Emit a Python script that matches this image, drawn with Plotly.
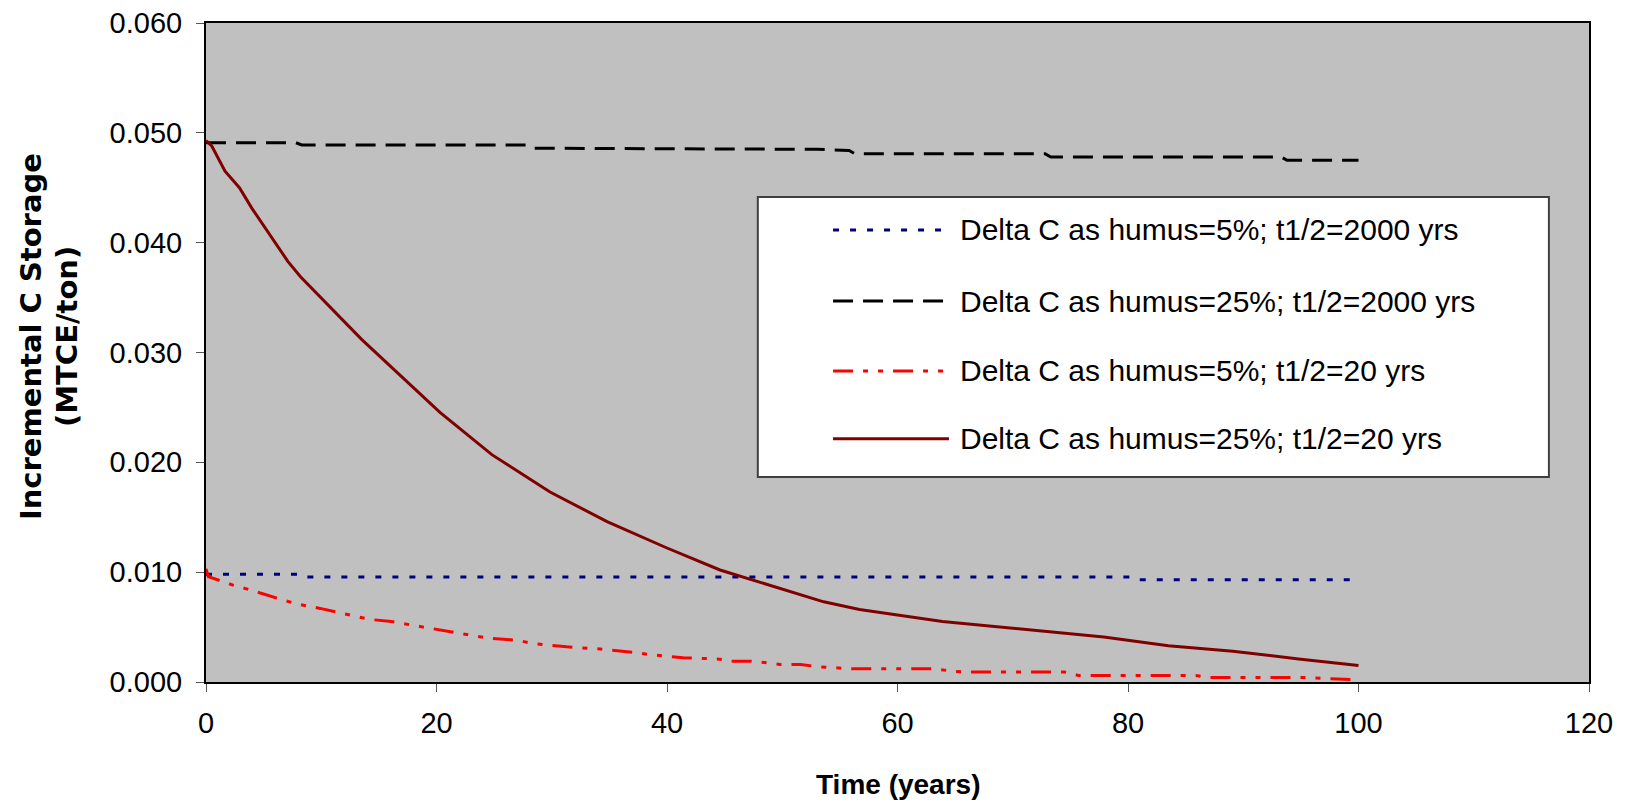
import plotly.graph_objects as go

# ---------------- data ----------------
series_names = [
    "Delta C as humus=5%; t1/2=2000 yrs",
    "Delta C as humus=25%; t1/2=2000 yrs",
    "Delta C as humus=5%; t1/2=20 yrs",
    "Delta C as humus=25%; t1/2=20 yrs",
]

time_5pct_2000 = [0, 8.0, 8.5, 80.5, 81.0, 100]
storage_5pct_2000 = [0.0098, 0.0098, 0.00955, 0.00955, 0.0093, 0.0093]

time_25pct_2000 = [0, 7.8, 8.3, 27.8, 28.3, 53.0, 55.8, 56.3, 72.8, 73.3, 93.3, 93.8, 100]
storage_25pct_2000 = [0.0491, 0.0491, 0.0489, 0.0489, 0.0486, 0.0485, 0.0484,
                      0.0481, 0.0481, 0.0478, 0.0478, 0.0475, 0.0475]

time_5pct_20 = [0, 0.2, 2.4, 3.8, 6.6, 7.9, 9.9, 12.8, 14.2, 16.1, 18.9, 21.5, 24.4, 27.0,
                28.4, 31.3, 34.2, 37.1, 38.5, 41.4, 44.4, 45.6, 47.2, 48.2, 49.8, 51.6,
                53.0, 56.0, 60.0, 63.3, 64.6, 65.9, 74.5, 75.7, 85.9, 87.0, 95.4, 98.0, 100]
storage_5pct_20 = [0.0103, 0.0096, 0.0088, 0.0084, 0.0075, 0.0071, 0.0067, 0.0060, 0.0057,
                   0.0055, 0.0050, 0.0045, 0.0040, 0.0038, 0.0035, 0.0032, 0.0030, 0.0027,
                   0.0025, 0.0022, 0.0021, 0.0019, 0.0019, 0.0018, 0.0016, 0.0016, 0.0014,
                   0.0012, 0.0012, 0.0012, 0.0010, 0.0009, 0.0009, 0.0006, 0.0006, 0.0004,
                   0.0004, 0.0003, 0.0002]

time_25pct_20 = [0, 0.5, 1.65, 2.9, 4.0, 7.1, 8.2, 13.5, 20.3, 24.8, 29.85, 34.8, 40.0,
                 44.6, 53.6, 56.7, 63.9, 77.9, 83.5, 89.1, 94.8, 100]
storage_25pct_20 = [0.0493, 0.0488, 0.0465, 0.0450, 0.0431, 0.0383, 0.0369, 0.0312, 0.02455,
                    0.0207, 0.0173, 0.0146, 0.0122, 0.0102, 0.0073, 0.0066, 0.0055, 0.0041,
                    0.0033, 0.0028, 0.0021, 0.0015]

x_ticks = [0, 20, 40, 60, 80, 100, 120]
y_ticks = [0.0, 0.01, 0.02, 0.03, 0.04, 0.05, 0.06]

x_title = "Time (years)"
y_title_lines = ["Incremental C Storage", "(MTCE/ton)"]

# ---------------- styles ----------------
FONT = "Liberation Sans, Arial, sans-serif"
WIDE_FONT = "DejaVu Sans, Liberation Sans, sans-serif"
styles = [
    dict(color="#000080", width=3, dash="6px,11px"),
    dict(color="#000000", width=3, dash="20px,10px"),
    dict(color="#FF0000", width=3, dash="20px,10px,5px,10px,5px,10px"),
    dict(color="#800000", width=3, dash="solid"),
]
series_x = [time_5pct_2000, time_25pct_2000, time_5pct_20, time_25pct_20]
series_y = [storage_5pct_2000, storage_25pct_2000, storage_5pct_20, storage_25pct_20]

fig = go.Figure()
for name, xs, ys, st in zip(series_names, series_x, series_y, styles):
    fig.add_trace(go.Scatter(x=xs, y=ys, mode="lines", name=name, line=st,
                             showlegend=False, hoverinfo="skip"))

# ---------------- manual legend (Excel-like box) ----------------
leg_x0, leg_x1, leg_y0, leg_y1 = 0.399, 0.971, 0.311, 0.736
sample_x0, sample_x1, text_x = 0.4534, 0.5372, 0.5435
row_y = [0.686, 0.578, 0.472, 0.369]

shapes = [dict(type="rect", xref="paper", yref="paper", x0=leg_x0, x1=leg_x1,
               y0=leg_y0, y1=leg_y1, fillcolor="white",
               line=dict(color="#404040", width=2), layer="above")]
annotations = []
for name, st, ry in zip(series_names, styles, row_y):
    shapes.append(dict(type="line", xref="paper", yref="paper", x0=sample_x0, x1=sample_x1,
                       y0=ry, y1=ry, line=st, layer="above"))
    annotations.append(dict(xref="paper", yref="paper", x=text_x, y=ry, text=name,
                            showarrow=False, xanchor="left", yanchor="middle",
                            font=dict(family=FONT, size=30, color="black")))

annotations.append(dict(xref="paper", yref="paper", x=0.5, y=-0.156, text="<b>" + x_title + "</b>",
                        showarrow=False, xanchor="center", yanchor="middle",
                        font=dict(family=FONT, size=28, color="black")))
# y-axis title, two rotated lines
annotations.append(dict(xref="paper", yref="paper", x=-0.1265, y=0.5235,
                        text="<b>" + y_title_lines[0] + "</b>",
                        showarrow=False, xanchor="center", yanchor="middle", textangle=-90,
                        font=dict(family=WIDE_FONT, size=29, color="black")))
annotations.append(dict(xref="paper", yref="paper", x=-0.1005, y=0.5235,
                        text="<b>" + y_title_lines[1] + "</b>",
                        showarrow=False, xanchor="center", yanchor="middle", textangle=-90,
                        font=dict(family=WIDE_FONT, size=29, color="black")))

# the page body has an 8px default margin; the figure is sized so the plot lands
# where the reference has it inside the 1627x806 window
fig.update_layout(
    width=1619, height=798,
    margin=dict(l=198, r=38, t=15, b=124, autoexpand=False),
    paper_bgcolor="white", plot_bgcolor="#C0C0C0",
    font=dict(family=FONT, size=29, color="black"),
    shapes=shapes, annotations=annotations,
    xaxis=dict(range=[0, 120], tickvals=x_ticks, ticktext=[str(v) for v in x_ticks],
               ticks="outside", ticklen=8, tickcolor="#555", tickwidth=1,
               showline=True, linecolor="black", linewidth=2, mirror=True,
               showgrid=False, zeroline=False, ticklabelstandoff=6, automargin=False,
               ticklabeloverflow="allow", tickfont=dict(family=FONT, size=29)),
    xaxis2=dict(range=[0, 120], tickvals=x_ticks, overlaying="x", anchor="y", side="bottom",
                ticks="inside", ticklen=8, tickcolor="#555", tickwidth=1, automargin=False,
                showticklabels=False, showline=False, showgrid=False, zeroline=False),
    yaxis=dict(range=[0, 0.06], tickvals=y_ticks, tickformat=".3f",
               ticks="outside", ticklen=8, tickcolor="#555", tickwidth=1,
               showline=True, linecolor="black", linewidth=2, mirror=True,
               showgrid=False, zeroline=False, ticklabelstandoff=8, automargin=False,
               ticklabeloverflow="allow", tickfont=dict(family=FONT, size=29)),
)

fig.write_html("out.html")
